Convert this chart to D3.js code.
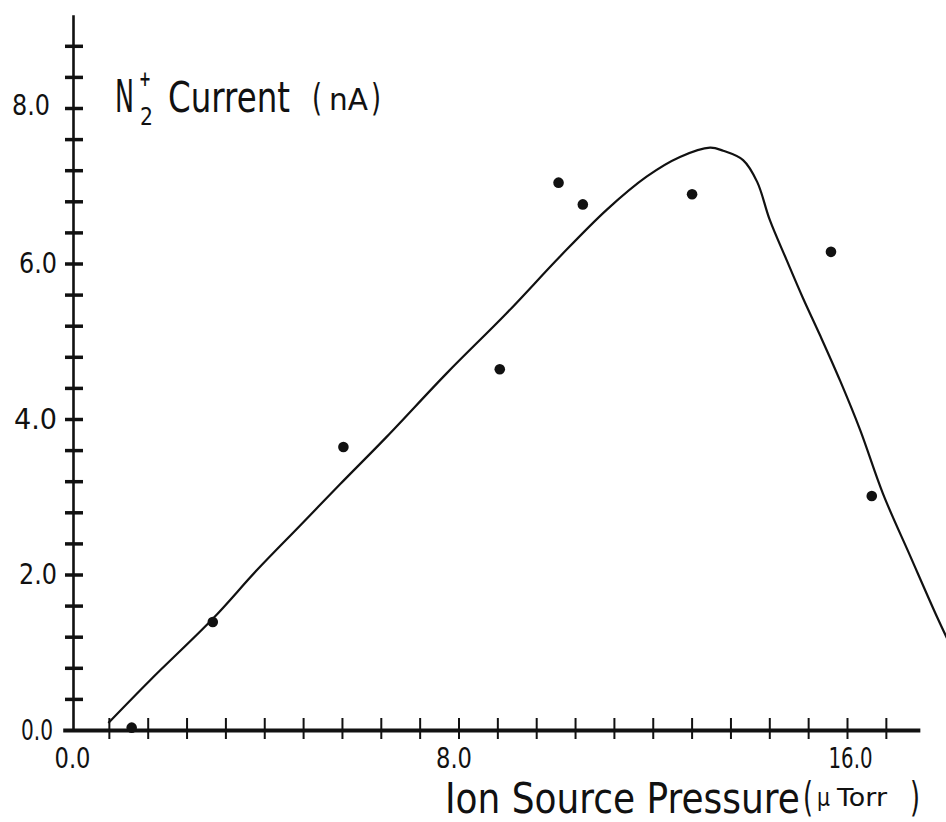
<!DOCTYPE html>
<html>
<head>
<meta charset="utf-8">
<script src="https://cdn.jsdelivr.net/npm/d3@7"></script>
<style>
  html, body { margin: 0; padding: 0; background: #fff; }
  svg { display: block; }
  text { font-family: "DejaVu Sans", sans-serif; fill: #111; }
</style>
</head>
<body>
<svg id="chart" width="946" height="822"></svg>
<script>
// ---- data ----
const pointX = [1.27, 2.94, 5.63, 8.85, 10.06, 10.56, 12.81, 15.67, 16.51];
const pointY = [0.03, 1.39, 3.64, 4.64, 7.04, 6.76, 6.89, 6.15, 3.01];

const curveX = [0.79, 1.65, 2.94, 3.84, 4.74, 5.56, 6.52, 7.76, 8.99, 10.09, 11.05, 11.88, 12.56, 13.18, 13.45, 13.86, 14.15, 14.41, 14.76, 15.09, 15.45, 15.86, 16.27, 16.74, 17.30, 17.85, 18.12];
const curveY = [0.09, 0.64, 1.43, 2.05, 2.63, 3.16, 3.77, 4.59, 5.36, 6.09, 6.69, 7.12, 7.37, 7.49, 7.45, 7.33, 7.05, 6.56, 6.04, 5.56, 5.07, 4.49, 3.86, 3.04, 2.24, 1.46, 1.10];

const xTickValues = d3.range(0, 22).map(i => +(i * 0.8).toFixed(1));   // 0 .. 16.8
const xTickLabels = ["0.0", "8.0", "16.0"];
const xLabelValues = [0, 8, 16];
const yTickValues = d3.range(0, 23).map(i => +(i * 0.4).toFixed(1));   // 0 .. 8.8
const yTickLabels = ["0.0", "2.0", "4.0", "6.0", "8.0"];
const yLabelValues = [0, 2, 4, 6, 8];

// ---- scales ----
const pxPerX = 48.5625, x0 = 70;
const x = d3.scaleLinear().domain([-0.15, 17.5]).range([x0 - 0.15 * pxPerX, x0 + 17.5 * pxPerX]);
const pxPerY = 77.75, y0 = 730;
const y = d3.scaleLinear().domain([0, 9.2]).range([y0, y0 - 9.2 * pxPerY]);

const svg = d3.select("#chart");

// text helper: places a text at (tx, ty) and squeezes it horizontally to a given width
function label(g, str, tx, ty, size, width, weight) {
  const t = g.append("text").attr("font-size", size).attr("x", 0).attr("y", 0).text(str);
  if (weight) t.attr("font-weight", weight);
  const natural = t.node().getComputedTextLength();
  const sx = width ? width / natural : 1;
  t.attr("transform", `translate(${tx},${ty}) scale(${sx},1)`);
  return t;
}

// ---- x axis ----
const xAxis = d3.axisBottom(x)
  .tickValues(xTickValues)
  .tickSizeOuter(0)
  .tickSize(0)
  .tickFormat(d => {
    const i = xLabelValues.findIndex(v => Math.abs(v - d) < 1e-6);
    return i >= 0 ? xTickLabels[i] : "";
  });
const gx = svg.append("g").attr("transform", `translate(0,${y(0)})`).call(xAxis);
gx.select(".domain").attr("stroke", "#111").attr("stroke-width", 4);
gx.selectAll(".tick line")
  .attr("y1", -12).attr("y2", 9)
  .attr("stroke", "#111").attr("stroke-width", 2)
  .attr("display", d => d === 0 ? "none" : null);
gx.selectAll(".tick text")
  .attr("y", 38).attr("dy", 0)
  .attr("font-size", 29)
  .attr("fill", "#111")
  .attr("font-family", "DejaVu Sans, sans-serif")
  .attr("dx", d => d === 0 ? 2 : (d === 8 ? -5 : 3))
  .each(function(d) {
    const t = d3.select(this).text();
    if (t) d3.select(this).attr("textLength", t.length === 3 ? 36 : 44).attr("lengthAdjust", "spacingAndGlyphs");
  });

// ---- y axis ----
const yAxis = d3.axisLeft(y)
  .tickValues(yTickValues)
  .tickSizeOuter(0)
  .tickSize(0)
  .tickFormat(d => {
    const i = yLabelValues.findIndex(v => Math.abs(v - d) < 1e-6);
    return i >= 0 ? yTickLabels[i] : "";
  });
const gy = svg.append("g").attr("transform", `translate(${x(0) + 3},0)`).call(yAxis);
gy.select(".domain").attr("stroke", "#111").attr("stroke-width", 2.6);
gy.selectAll(".tick line")
  .attr("x1", -8).attr("x2", 10)
  .attr("stroke", "#111").attr("stroke-width", 3.5)
  .attr("display", d => d === 0 ? "none" : null);
gy.selectAll(".tick text")
  .attr("x", d => d === 0 ? -20 : (d === 8 ? -23 : -16))
  .attr("y", d => d === 8 ? -3 : 0)
  .attr("font-size", 29)
  .attr("fill", "#111")
  .attr("font-family", "DejaVu Sans, sans-serif")
  .each(function(d) {
    const t = d3.select(this).text();
    if (t) d3.select(this).attr("textLength", d === 0 ? 32 : (d === 4 ? 43 : 38)).attr("lengthAdjust", "spacingAndGlyphs");
  });

// ---- fitted curve ----
const curveData = curveX.map((v, i) => [v, curveY[i]]);
svg.append("path")
  .datum(curveData)
  .attr("fill", "none")
  .attr("stroke", "#111")
  .attr("stroke-width", 2.2)
  .attr("stroke-linejoin", "round")
  .attr("d", d3.line().x(d => x(d[0])).y(d => y(d[1])).curve(d3.curveCatmullRom.alpha(0.5)));

// ---- data points ----
svg.append("g").selectAll("circle")
  .data(pointX.map((v, i) => [v, pointY[i]]))
  .join("circle")
  .attr("cx", d => x(d[0]))
  .attr("cy", d => y(d[1]))
  .attr("r", 5.3)
  .attr("fill", "#111");

// ---- y title: N2+ Current ( nA) ----
const yt = svg.append("g");
label(yt, "N", 115, 112, 44, 19);
label(yt, "2", 140, 125, 24, 13);
label(yt, "+", 139, 86, 22, 12, "bold");
label(yt, "Current", 168, 112, 42, 122);
label(yt, "(", 312, 110, 38, 10);
label(yt, "nA", 329, 110, 30, 39);
label(yt, ")", 371, 110, 38, 10);

// ---- x title: Ion Source Pressure (µ Torr ) ----
const xt = svg.append("g");
label(xt, "Ion Source Pressure", 445, 813, 43, 355);
label(xt, "(", 803, 811, 40, 10);
label(xt, "µ", 817, 806, 24, 13);
label(xt, "Torr", 837, 806, 25, 50);
label(xt, ")", 910, 811, 40, 10);
</script>
</body>
</html>
